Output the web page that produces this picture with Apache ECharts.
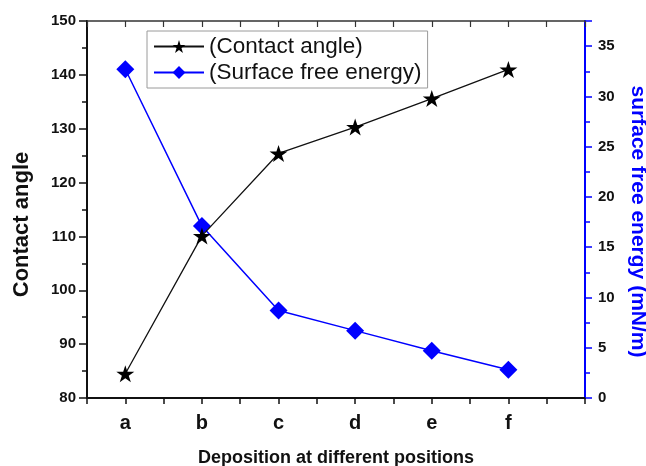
<!DOCTYPE html>
<html>
<head>
<meta charset="utf-8">
<script src="https://cdn.jsdelivr.net/npm/echarts@6/dist/echarts.min.js"></script>
<style>
  html, body { margin: 0; padding: 0; background: #fff; }
  #main { width: 646px; height: 466px; }
</style>
</head>
<body>
<div id="main"></div>
<script>
var positions = ['a', 'b', 'c', 'd', 'e', 'f'];
var contactAngle = [84.5, 110.1, 125.4, 130.3, 135.6, 141.0];
var surfaceEnergy = [32.7, 17.1, 8.7, 6.7, 4.7, 2.8];

var starPath = 'path://M0,-10L2.245,-3.09L9.511,-3.09L3.633,1.18L5.878,8.09L0,3.82L-5.878,8.09L-3.633,1.18L-9.511,-3.09L-2.245,-3.09Z';

// x axis is a value axis so the frame can run from -0.5 to 6 like the original
var toPoints = function (vals) {
  var res = [];
  for (var i = 0; i < vals.length; i++) {
    res.push([i, vals[i]]);
  }
  return res;
};

var font = 'Liberation Sans, Arial, sans-serif';
var chart = echarts.init(document.getElementById('main'), null, { renderer: 'canvas' });

var option = {
  backgroundColor: '#fff',
  animation: false,
  grid: { left: 87, right: 61, top: 21, bottom: 68, outerBoundsMode: 'none' },
  legend: {
    orient: 'vertical',
    left: 147,
    top: 31,
    padding: [4, 6, 4, 6],
    itemGap: 3,
    itemWidth: 50,
    itemHeight: 16,
    borderColor: '#9a9a9a',
    borderWidth: 1,
    textStyle: { fontFamily: font, fontSize: 22.5, color: '#111', lineHeight: 23 },
    data: ['(Contact angle)', '(Surface free energy)']
  },
  xAxis: [
    {
      type: 'value',
      min: -0.5,
      max: 6,
      interval: 0.5,
      position: 'bottom',
      name: 'Deposition at different positions',
      nameLocation: 'middle',
      nameGap: 51,
      nameTextStyle: { fontFamily: font, fontSize: 18, fontWeight: 'bold', color: '#111' },
      axisLine: { onZero: false, lineStyle: { color: '#111', width: 2 } },
      axisTick: { length: 6, lineStyle: { color: '#111', width: 1.5 } },
      axisLabel: {
        margin: 15,
        fontFamily: font, fontSize: 20, fontWeight: 'bold', color: '#111',
        formatter: function (v) {
          return (Number.isInteger(v) && positions[v]) ? positions[v] : '';
        }
      },
      splitLine: { show: false }
    },
    {
      type: 'value',
      min: -0.5,
      max: 6,
      interval: 0.5,
      position: 'top',
      axisLine: { onZero: false, lineStyle: { color: '#333', width: 1.5 } },
      axisTick: { inside: true, length: 6, lineStyle: { color: '#333', width: 1.2 } },
      axisLabel: { show: false },
      splitLine: { show: false }
    }
  ],
  yAxis: [
    {
      type: 'value',
      min: 80,
      max: 150,
      interval: 10,
      position: 'left',
      name: 'Contact angle',
      nameLocation: 'middle',
      nameGap: 54,
      nameTextStyle: { fontFamily: font, fontSize: 22, fontWeight: 'bold', color: '#111', padding: [0, 30, 0, 0] },
      axisLine: { show: true, onZero: false, lineStyle: { color: '#111', width: 2 } },
      axisTick: { length: 8, lineStyle: { color: '#111', width: 1.5 } },
      minorTick: { show: true, splitNumber: 2, length: 5, lineStyle: { color: '#111', width: 1.5 } },
      axisLabel: { margin: 11, fontFamily: font, fontSize: 15, fontWeight: 'bold', color: '#111' },
      splitLine: { show: false }
    },
    {
      type: 'value',
      min: 0,
      max: 37.5,
      interval: 5,
      position: 'right',
      name: 'surface free energy (mN/m)',
      nameLocation: 'middle',
      nameRotate: -90,
      nameGap: 42,
      nameTextStyle: { fontFamily: font, fontSize: 21, fontWeight: 'bold', color: '#0000ff', padding: [0, 0, 0, 24] },
      axisLine: { show: true, onZero: false, lineStyle: { color: '#0000ff', width: 2 } },
      axisTick: { length: 7, lineStyle: { color: '#0000ff', width: 1.5 } },
      minorTick: { show: true, splitNumber: 2, length: 5, lineStyle: { color: '#0000ff', width: 1.5 } },
      axisLabel: { margin: 13, showMaxLabel: false, fontFamily: font, fontSize: 15, fontWeight: 'bold', color: '#111' },
      splitLine: { show: false }
    }
  ],
  series: [
    {
      name: '(Contact angle)',
      type: 'line',
      xAxisIndex: 0,
      yAxisIndex: 0,
      data: toPoints(contactAngle),
      symbol: starPath,
      symbolSize: [18, 17],
      lineStyle: { color: '#111', width: 1.3 },
      itemStyle: { color: '#000' },
      z: 3
    },
    {
      name: '(Surface free energy)',
      type: 'line',
      xAxisIndex: 0,
      yAxisIndex: 1,
      data: toPoints(surfaceEnergy),
      symbol: 'diamond',
      symbolSize: 18,
      lineStyle: { color: '#0000ff', width: 1.5 },
      itemStyle: { color: '#0000ff' },
      z: 2
    }
  ]
};

chart.setOption(option);
</script>
</body>
</html>
